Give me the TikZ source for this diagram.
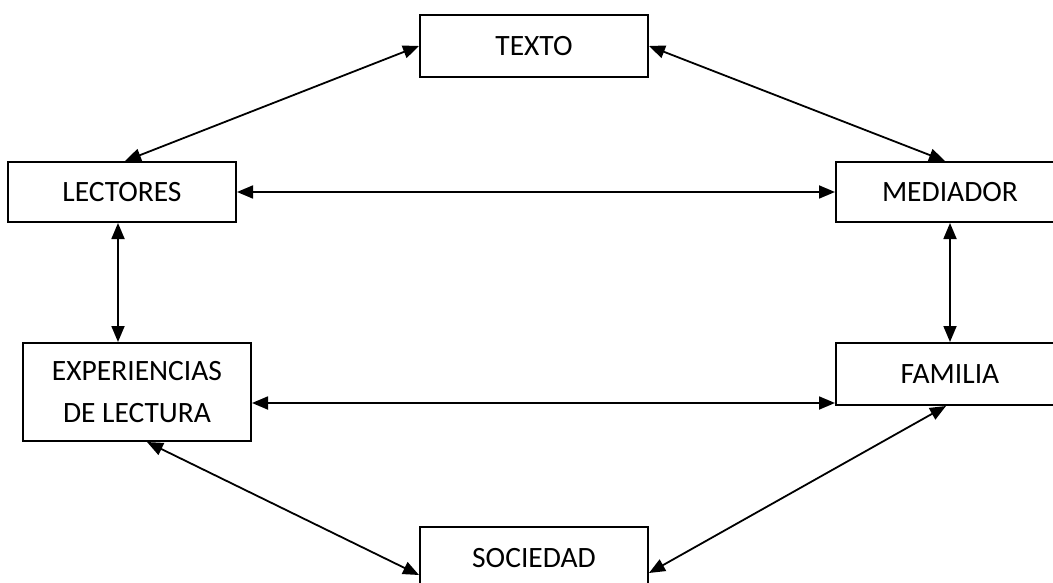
\documentclass[tikz,border=0pt]{standalone}
\usepackage{fontspec}
\setmainfont{Carlito}
\usetikzlibrary{arrows.meta}
\begin{document}
\begin{tikzpicture}[x=1pt,y=-1pt,
  box/.style={draw,line width=2pt,minimum width=228pt,minimum height=62pt,inner sep=0pt,align=center,font=\fontsize{29.5}{42}\selectfont},
  link/.style={line width=1.8pt,{Triangle[length=16pt,width=13pt]}-{Triangle[length=16pt,width=13pt]}}]
\useasboundingbox (0,0) rectangle (1053,583);
\clip (0,0) rectangle (1053,583);
\node[box] (tex) at (534,46) {TEXTO};
\node[box,minimum height=60pt] (lec) at (122,192) {LECTORES};
\node[box,minimum height=60pt] (med) at (950,192) {MEDIADOR};
\node[box,minimum height=98pt] (exp) at (137,392) {EXPERIENCIAS\\DE LECTURA};
\node[box] (fam) at (950,374) {FAMILIA};
\node[box] (soc) at (534,558) {SOCIEDAD};
\coordinate (fy) at ([yshift=3pt]fam.south west);
\draw[link] (tex.west) -- ([xshift=3pt]lec.north);
\draw[link] (tex.east) -- ([xshift=-5pt]med.north);
\draw[link] (lec.east) -- (med.west);
\draw[link] ([xshift=-4pt]lec.south) -- ([xshift=-19pt]exp.north);
\draw[link] (med.south) -- (fam.north);
\draw[link] (exp.east |- fy) -- (fy);
\draw[link] ([xshift=10pt]exp.south) -- ([yshift=-17pt]soc.west);
\draw[link] ([xshift=-4pt]fam.south) -- ([yshift=-15pt]soc.east);
\end{tikzpicture}
\end{document}
